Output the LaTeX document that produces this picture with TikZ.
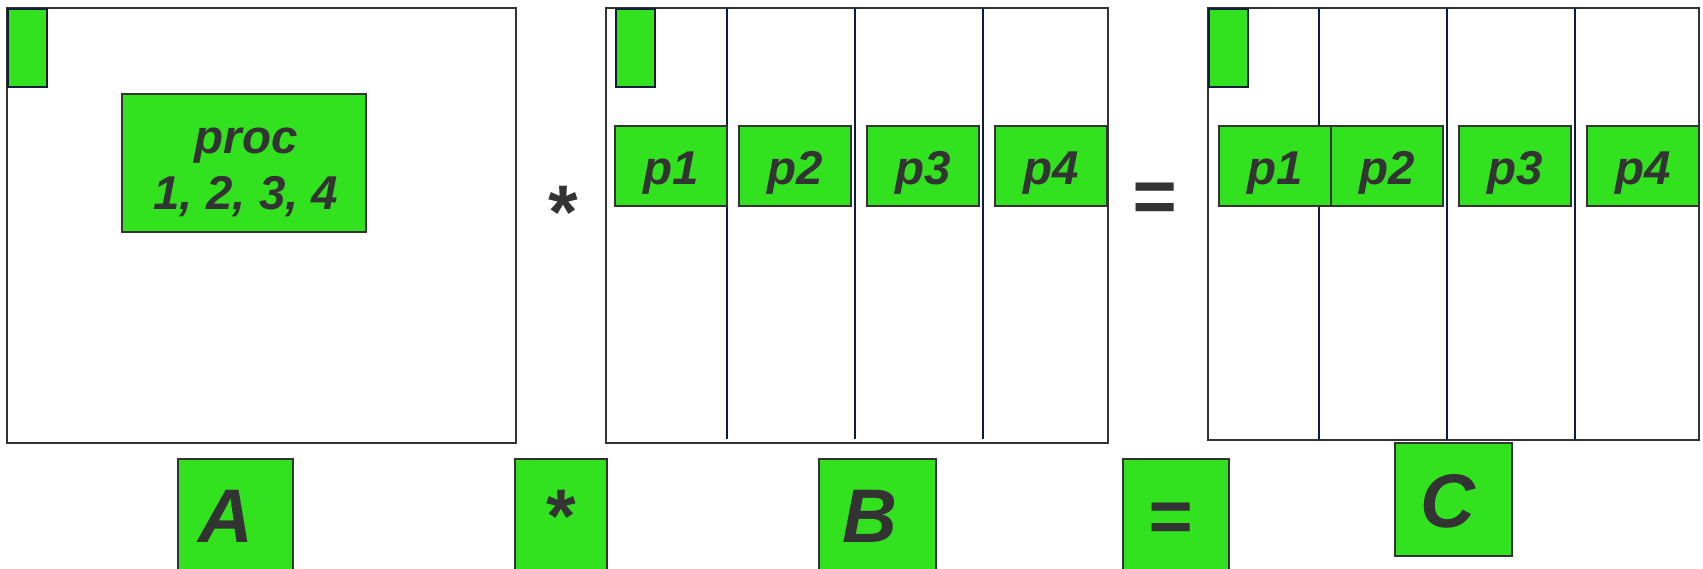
\documentclass[tikz,border=0pt]{standalone}
\usepackage{fontspec}
\setmainfont{Liberation Sans}
\usetikzlibrary{positioning,calc}

\definecolor{boxgreen}{RGB}{51,226,31}
\definecolor{inkgray}{RGB}{51,51,51}
\definecolor{gridnavy}{RGB}{14,30,58}

\begin{document}
\begin{tikzpicture}[
    x=1pt, y=-1pt,
    text=inkgray,
    mat/.style={rectangle, draw=inkgray, line width=2pt, fill=white, inner sep=0pt},
    blk/.style={rectangle, draw=inkgray, line width=2pt, fill=boxgreen, inner sep=0pt},
    corner/.style={rectangle, draw=gridnavy, line width=2pt, fill=boxgreen, inner sep=0pt, minimum width=39pt, minimum height=78pt},
    part/.style={blk, minimum width=112pt, minimum height=80pt, text height=36pt, text depth=0pt, font=\fontsize{47.5}{56}\selectfont\bfseries\itshape},
    lbl/.style={inner sep=0pt, font=\fontsize{47.5}{56}\selectfont\bfseries\itshape},
    big/.style={inner sep=0pt, anchor=base, font=\fontsize{76}{90}\selectfont\bfseries\itshape},
    colline/.style={draw=gridnavy, line width=2pt}
]

\useasboundingbox (0,0) rectangle (1703,568);
\clip (0,0) rectangle (1703,568);

% Matrices
\node[mat, minimum width=509pt, minimum height=435pt] (matA) at (261.5,225.5) {};
\node[mat, minimum width=502pt, minimum height=435pt] (matB) at (857,225.5) {};
\node[mat, minimum width=491pt, minimum height=432pt] (matC) at (1453.5,224) {};

% Column splits
\foreach \x in {727,855,983} \draw[colline] (\x,8) -- (\x,439);
\foreach \x in {1319,1447,1575} \draw[colline] (\x,8) -- (\x,440);

% First element of each matrix
\node[corner] (cornA) at (27.75,48) {};
\node[corner] (cornB) at (635.5,48) {};
\node[corner] (cornC) at (1228,48) {};

% Blocks owned by processes
\node[blk, minimum width=243.5pt, minimum height=138pt] (proc) at (244,163) {};
\node[lbl, align=center] (procText) at (246,172) {proc\\1, 2, 3, 4};

\node[part] (Bp1) at (671,166) {p1};
\node[part] (Bp2) at (795,166) {p2};
\node[part] (Bp3) at (923,166) {p3};
\node[part] (Bp4) at (1051,166) {p4};

\node[part] (Cp1) at (1275,166) {p1};
\node[part] (Cp2) at (1387,166) {p2};
\node[part] (Cp3) at (1515,166) {p3};
\node[part] (Cp4) at (1643,166) {p4};

% Operators between matrices
\node[big] (times) at (560,238) {*};
\node[big] (equals) at (1154,222) {=};

% Legend boxes
\node[blk, anchor=north, minimum width=115pt, minimum height=140pt] (keyA) at (235.5,458) {};
\node[blk, anchor=north, minimum width=92pt, minimum height=140pt] (keyTimes) at (561,458) {};
\node[blk, anchor=north, minimum width=117pt, minimum height=140pt] (keyB) at (877.5,458) {};
\node[blk, anchor=north, minimum width=106pt, minimum height=140pt] (keyEquals) at (1176,458) {};
\node[blk, anchor=north, minimum width=117pt, minimum height=113pt] (keyC) at (1453.5,442) {};

\node[big] (txtA) at (226,542) {A};
\node[big] (txtTimes) at (558,542) {*};
\node[big] (txtB) at (870,542) {B};
\node[big] (txtEquals) at (1170,542) {=};
\node[big] (txtC) at (1448,527) {C};

\end{tikzpicture}
\end{document}
